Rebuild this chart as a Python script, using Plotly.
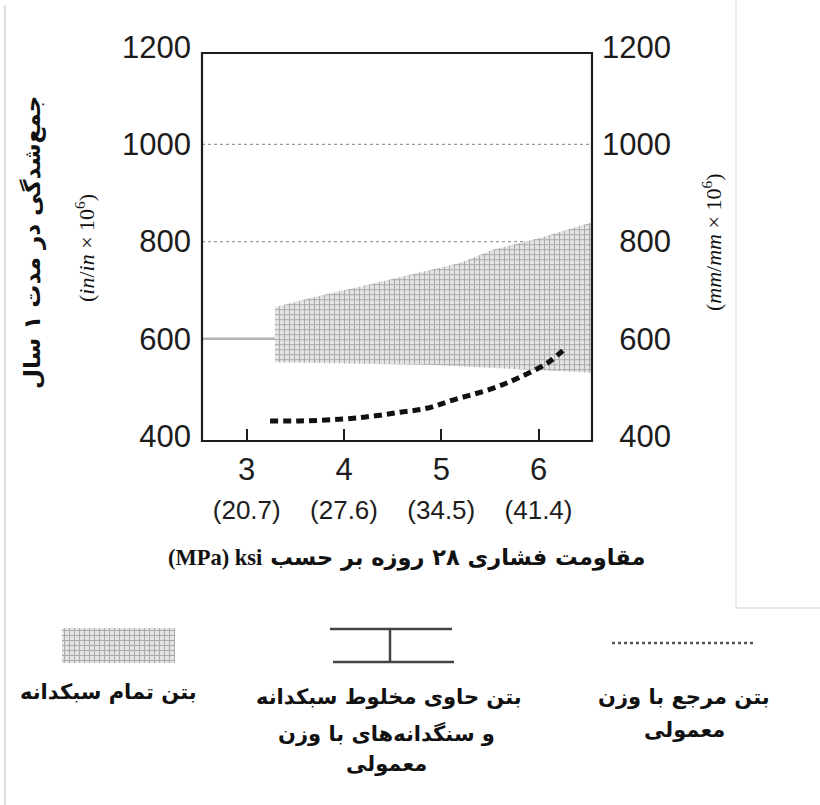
import plotly.graph_objects as go

# ---------------- data ----------------
ksi_ticks = [3, 4, 5, 6]
mpa_labels = ["(20.7)", "(27.6)", "(34.5)", "(41.4)"]
y_ticks = [400, 600, 800, 1000, 1200]
grid_vals = [600, 800, 1000]

# lightweight concrete band (upper and lower boundary)
band_upper_x = [3.29, 3.65, 4.16, 4.68, 5.19, 5.53, 6.04, 6.55]
band_upper_y = [665, 684, 707, 731, 756, 783, 809, 840]
band_lower_x = [3.29, 4.92, 6.55]
band_lower_y = [552, 546, 530]

# normal-weight reference concrete
ref_x = [3.24, 3.55, 4.0, 4.3, 4.58, 4.85, 5.12, 5.53, 5.81, 6.09, 6.29]
ref_y = [431, 431, 435, 441, 449, 457, 474, 498, 521, 550, 583]

W, H = 820, 805
def px(x):
    return x / W
def py(y):
    return 1 - y / H

FONT = "Liberation Sans, Arial, sans-serif"
FA = "DejaVu Sans, Noto Sans, sans-serif"
INK = "#1c1c1c"

fill_pattern = dict(shape="+", fgcolor="#a8a8a8", bgcolor="#e4e4e4", size=5, solidity=0.35)

fig = go.Figure()

# band polygon
poly_x = band_upper_x + band_lower_x[::-1] + band_upper_x[:1]
poly_y = band_upper_y + band_lower_y[::-1] + band_upper_y[:1]
fig.add_trace(go.Scatter(x=poly_x, y=poly_y, mode="lines", fill="toself",
                         line=dict(width=0, color="#d8d8d8"),
                         fillcolor="#e4e4e4", fillpattern=fill_pattern,
                         showlegend=False, hoverinfo="skip"))

fig.add_trace(go.Scatter(x=ref_x, y=ref_y, mode="lines",
                         line=dict(color="#111", width=5, dash="8px,5px", shape="spline"),
                         showlegend=False))

# dummy for right axis
fig.add_trace(go.Scatter(x=[ksi_ticks[0]], y=[y_ticks[0]], yaxis="y2", mode="markers",
                         marker=dict(opacity=0), showlegend=False, hoverinfo="skip"))

# legend swatch (pattern) on its own small axes
fig.add_trace(go.Bar(x=[0.5], y=[1], width=[1], xaxis="x3", yaxis="y3",
                     marker=dict(color="#e4e4e4", line=dict(width=0), pattern=fill_pattern),
                     showlegend=False, hoverinfo="skip"))

xdom = [px(202), px(592)]
ydom = [py(436), py(47.2)]

fig.update_layout(
    template="none",
    width=W, height=H,
    margin=dict(l=0, r=0, t=0, b=0, pad=0, autoexpand=False),
    paper_bgcolor="white", plot_bgcolor="rgba(0,0,0,0)",
    showlegend=False,
    xaxis=dict(domain=xdom, range=[2.54, 6.55], anchor="free", position=py(441),
               tickvals=ksi_ticks,
               ticktext=[f"<span style='font-size:31px'>{k}</span><br><span style='font-size:26px'>{m}</span>"
                         for k, m in zip(ksi_ticks, mpa_labels)],
               ticks="inside", ticklen=12, tickwidth=2, tickcolor=INK,
               showgrid=False, zeroline=False, showline=False, automargin=False,
               tickfont=dict(family=FONT, size=30, color=INK), ticklabelstandoff=8),
    yaxis=dict(domain=ydom, range=[400, 1200], tickvals=y_ticks,
               ticktext=[str(v) for v in y_ticks], automargin=False,
               showgrid=False, zeroline=False, showline=False, ticks="",
               tickfont=dict(family=FONT, size=31, color=INK), ticklabelstandoff=10),
    yaxis2=dict(domain=ydom, range=[400, 1200], overlaying="y", side="right", anchor="x",
                tickvals=y_ticks, automargin=False,
                ticktext=[("\u2007" * (4 - len(str(v)))) + str(v) for v in y_ticks],
                showgrid=False, zeroline=False, showline=False, ticks="",
                tickfont=dict(family=FONT, size=31, color=INK), ticklabelstandoff=9),
    xaxis3=dict(domain=[px(62), px(175)], range=[0, 1], anchor="y3", visible=False, automargin=False),
    yaxis3=dict(domain=[py(663), py(628)], range=[0, 1], anchor="x3", visible=False, automargin=False),
)

shapes = []
# grid lines (600 line is heavier and solid, covered by the band)
for v in grid_vals:
    style = dict(color="#b4b4b4", width=2.5) if v == 600 else dict(color="#9a9a9a", width=1.2, dash="dot")
    shapes.append(dict(type="line", xref="paper", yref="y", x0=px(202), x1=px(592), y0=v, y1=v,
                       line=style, layer="below"))
# frame
shapes.append(dict(type="rect", xref="paper", yref="paper", x0=px(202), x1=px(592), y0=py(441), y1=py(53),
                   line=dict(color=INK, width=2.2)))
# page edges
shapes.append(dict(type="line", xref="paper", yref="paper", x0=px(5), x1=px(5), y0=py(5), y1=py(805),
                   line=dict(color="#dedede", width=2)))
shapes.append(dict(type="line", xref="paper", yref="paper", x0=px(736), x1=px(736), y0=py(0), y1=py(608),
                   line=dict(color="#e6e6e6", width=1.5)))
shapes.append(dict(type="line", xref="paper", yref="paper", x0=px(736), x1=px(820), y0=py(608), y1=py(608),
                   line=dict(color="#e0e0e0", width=1.5)))
# legend: dotted line
shapes.append(dict(type="line", xref="paper", yref="paper", x0=px(612), x1=px(755), y0=py(643), y1=py(643),
                   line=dict(color="#555", width=2.5, dash="dot")))
# legend: I-beam
for (a, b, c, d) in [(330, 629, 452, 629), (333, 662, 454, 662), (390, 629, 390, 662)]:
    shapes.append(dict(type="line", xref="paper", yref="paper", x0=px(a), x1=px(c), y0=py(b), y1=py(d),
                       line=dict(color="#444", width=2.5)))
fig.update_layout(shapes=shapes)

ann = []
def add_text(text, x, y, size=22, family=FA, angle=0, bold=True):
    t = f"<b>{text}</b>" if bold else text
    ann.append(dict(text=t, x=px(x), y=py(y), xref="paper", yref="paper", showarrow=False,
                    xanchor="center", yanchor="middle", textangle=angle,
                    font=dict(family=family, size=size, color="#111")))

# axis titles
add_text("جمع‌شدگی در مدت ۱ سال", 33, 243, size=23, angle=-90)
add_text("(<i>in</i>/<i>in</i> × 10<sup>6</sup>)", 85, 248, size=22,
         family="Liberation Serif, Times New Roman, serif", angle=-90, bold=False)
add_text("(<i>mm</i>/<i>mm</i> × 10<sup>6</sup>)", 712, 243, size=22,
         family="Liberation Serif, Times New Roman, serif", angle=-90, bold=False)
add_text("<span style=\"font-family:'Liberation Serif'\">(MPa) ksi</span> مقاومت فشاری ۲۸ روزه بر حسب",
         406, 557, size=22.5)

# legend labels
add_text("بتن مرجع با وزن", 684, 697, size=21)
add_text("معمولی", 684, 730, size=21)
add_text("بتن حاوی مخلوط سبکدانه", 389, 697, size=21)
add_text("و سنگدانه‌های با وزن", 386, 733, size=21)
add_text("معمولی", 386, 764, size=21)
add_text("بتن تمام سبکدانه", 108, 692, size=21)
fig.update_layout(annotations=ann)

fig.write_html("out.html", config={"displayModeBar": False},
               post_script="document.body.style.margin='0px';document.body.style.overflow='hidden';")
